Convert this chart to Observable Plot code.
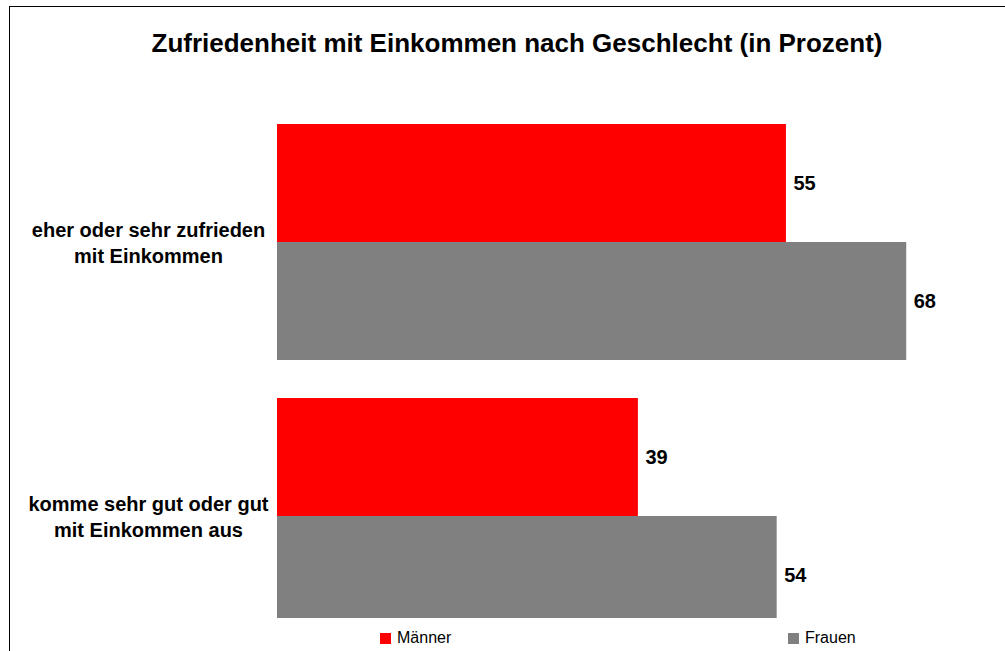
<!DOCTYPE html>
<html><head><meta charset="utf-8">
<script src="https://cdn.jsdelivr.net/npm/d3@7"></script>
<script src="https://cdn.jsdelivr.net/npm/@observablehq/plot@0.6"></script>
<style>
body{margin:0;background:#fff;font-family:"Liberation Sans",Arial,sans-serif;}
#wrap{position:relative;width:1005px;height:651px;overflow:hidden;background:#fff;}
#chart{position:absolute;left:0;top:0;width:1005px;height:618px;overflow:hidden;}
#chart svg{overflow:hidden;}
#frame{position:absolute;left:9px;top:6px;width:1200px;height:800px;border-left:1px solid #000;border-top:1px solid #000;pointer-events:none;}
#title{position:absolute;left:0;width:1034px;top:30px;text-align:center;font-weight:bold;font-size:26px;line-height:26px;color:#000;}
.leg{position:absolute;top:630px;font-size:16px;line-height:16px;color:#000;white-space:nowrap;}
.sw{position:absolute;top:633px;width:11px;height:11px;}
</style></head>
<body>
<div id="wrap">
  <div id="chart"></div>
  <div id="title">Zufriedenheit mit Einkommen nach Geschlecht (in Prozent)</div>
  <div id="legend"></div>
  <div id="frame"></div>
</div>
<script>
const categories = ["eher oder sehr zufrieden\nmit Einkommen", "komme sehr gut oder gut\nmit Einkommen aus"];
const series = ["Männer", "Frauen"];
const maenner = [55, 39];
const frauen = [68, 54];
const colors = ["#ff0000", "#808080"];

const data = [];
categories.forEach((c, i) => {
  data.push({category: c, series: series[0], value: maenner[i]});
  data.push({category: c, series: series[1], value: frauen[i]});
});

const chart = Plot.plot({
  width: 1005,
  height: 651,
  marginLeft: 277,
  marginRight: 34,
  marginTop: 123,
  marginBottom: 16,
  x: {domain: [0, 75], axis: null},
  y: {domain: series, axis: null, padding: 0},
  fy: {domain: categories, axis: null, paddingInner: 0.135, paddingOuter: 0},
  color: {domain: series, range: colors},
  style: {fontFamily: "'Liberation Sans', Arial, sans-serif", background: "transparent", overflow: "hidden"},
  marks: [
    Plot.barX(data, {x: "value", y: "series", fy: "category", fill: "series"}),
    Plot.text(data, {x: "value", y: "series", fy: "category", text: d => String(d.value), dx: 7, textAnchor: "start", fontWeight: "bold", fontSize: 20, fill: "#000"}),
    Plot.text(categories, {fy: d => d, text: d => d, frameAnchor: "left", dx: -129, textAnchor: "middle", fontWeight: "bold", fontSize: 20, lineHeight: 1.3, fill: "#000"})
  ]
});
document.getElementById("chart").appendChild(chart);

const legend = document.getElementById("legend");
const legPos = [380, 788];
series.forEach((s, i) => {
  const sw = document.createElement("div");
  sw.className = "sw";
  sw.style.left = legPos[i] + "px";
  sw.style.background = chart.scale("color").apply(s);
  legend.appendChild(sw);
  const t = document.createElement("div");
  t.className = "leg";
  t.style.left = (legPos[i] + 17) + "px";
  t.textContent = s;
  legend.appendChild(t);
});
</script>
</body></html>
